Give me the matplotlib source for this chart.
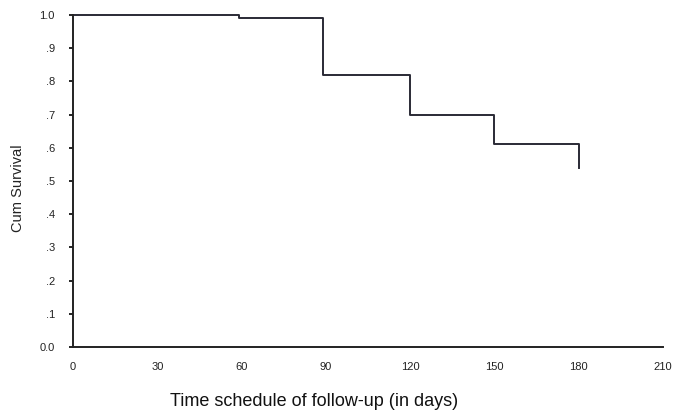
import matplotlib
matplotlib.use("Agg")
import matplotlib.pyplot as plt

plt.rcParams['font.family'] = ['Liberation Sans', 'DejaVu Sans']

# Kaplan-Meier step data
times = [0, 59, 89, 120, 150, 180]
survival = [1.0, 0.99, 0.82, 0.70, 0.61, 0.54]

x_ticks = [0, 30, 60, 90, 120, 150, 180, 210]
y_ticks = [0.0, 0.1, 0.2, 0.3, 0.4, 0.5, 0.6, 0.7, 0.8, 0.9, 1.0]
y_labels = ['0.0', '.1', '.2', '.3', '.4', '.5', '.6', '.7', '.8', '.9', '1.0']

fig = plt.figure(figsize=(6.73, 4.12), dpi=100)
ax = fig.add_axes([73/673, 1 - 347/412, 590/673, 332/412])

ax.step(times, survival, where='post', color='#2a2a35', linewidth=1.4, clip_on=False)

ax.set_xlim(0, 210)
ax.set_ylim(0, 1.0)
ax.set_xticks(x_ticks)
ax.set_xticklabels([str(t) for t in x_ticks], fontsize=8, color='#222222')
ax.set_yticks(y_ticks)
ax.set_yticklabels(y_labels, fontsize=8, color='#222222')
ax.tick_params(axis='x', length=0, pad=11)
ax.tick_params(axis='y', length=3, width=1.2, direction='out', pad=10)

for s in ['top', 'right']:
    ax.spines[s].set_visible(False)
for s in ['left', 'bottom']:
    ax.spines[s].set_linewidth(1.4)
    ax.spines[s].set_color('#222222')

fig.text(18/673, 1 - 188/412, 'Cum Survival', rotation=90,
         ha='center', va='center', fontsize=10.5, color='#222222')
fig.text(314/673, 1 - 401/412, 'Time schedule of follow-up (in days)',
         ha='center', va='center', fontsize=13, color='#111111')

fig.savefig('out.png', dpi=100)
